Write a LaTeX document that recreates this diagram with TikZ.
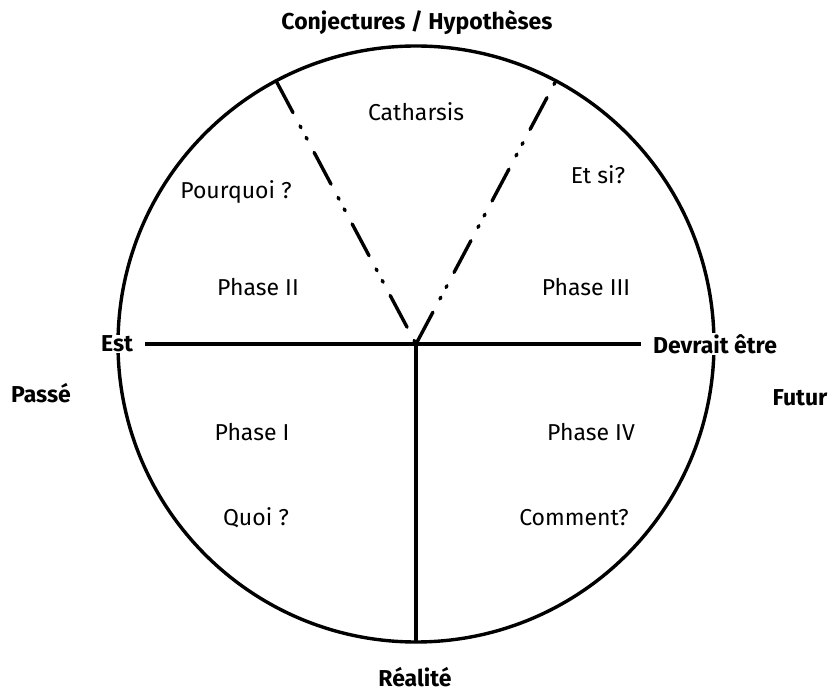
\documentclass[tikz,border=0pt]{standalone}
\usepackage{fontspec}
\setmainfont{Fira Sans}
\usepackage{tikz}
\usetikzlibrary{positioning}

\begin{document}
\begin{tikzpicture}[
    x=1pt,y=-1pt,
    trait/.style={line width=3.4pt,draw=black},
    pointille/.style={trait,line cap=round,
      dash pattern=on 36pt off 15pt on 2pt off 11pt on 2pt off 15pt},
    etiq/.style={font=\fontsize{23}{26}\selectfont,inner sep=2pt},
    bord/.style={font=\bfseries\fontsize{23}{26}\selectfont,inner sep=1pt},
    coupe/.style={bord,fill=white,inner xsep=12pt}
  ]
    \useasboundingbox (0,0) rectangle (831,692);
    \coordinate (centre) at (416,344);
    \node[trait,circle,minimum size=596pt,inner sep=0pt,outer sep=0pt] (cercle) at (centre) {};
    \node[bord] (conj) at (417,22) {Conjectures / Hypothèses};
    \node[bord] (realite) at (415,677) {Réalité};
    \node[bord] (passe) at (41,393) {Passé};
    \node[bord] (futur) at (800,398) {Futur};
    \node[coupe] (est) at (117,344) {Est};
    \node[coupe] (devrait) at (715,344) {Devrait être};
    \node[etiq] (catharsis) at (416,112) {Catharsis};
    \node[etiq] (pourquoi) at (236,192) {Pourquoi ?};
    \node[etiq] (phase2) at (258,287) {Phase II};
    \node[etiq] (etsi) at (598,175) {Et si?};
    \node[etiq] (phase3) at (586,287) {Phase III};
    \node[etiq] (phase1) at (252,432) {Phase I};
    \node[etiq] (quoi) at (256,518) {Quoi ?};
    \node[etiq] (phase4) at (591,432) {Phase IV};
    \node[etiq] (comment) at (574,518) {Comment?};
    \draw[trait] (est)--(devrait);
    \draw[trait] (centre)--(cercle.south);
    \draw[pointille] (cercle.118)--(centre);
    \draw[pointille] (centre)--(cercle.62);
  \end{tikzpicture}
\end{document}
